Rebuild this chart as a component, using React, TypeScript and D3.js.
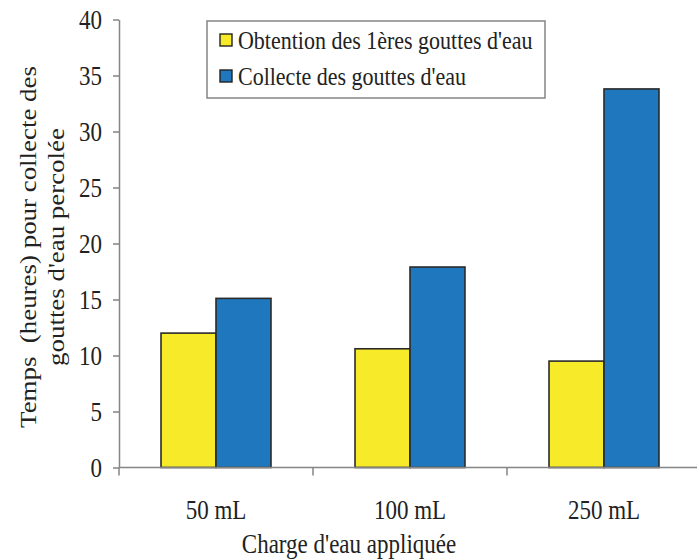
import React, { useEffect, useRef } from "react";
import * as d3 from "d3";

// data
const categories = ["50 mL", "100 mL", "250 mL"];
const seriesNames = ["Obtention des 1ères gouttes d'eau", "Collecte des gouttes d'eau"];
const firstDrops = [12.0, 10.6, 9.5];
const collection = [15.1, 17.9, 33.8];
const yTicks = [0, 5, 10, 15, 20, 25, 30, 35, 40];
const colors = ["#F7EA28", "#1F78BE"];

const FONT = "'Liberation Serif', 'Times New Roman', serif";
// the original figure is stretched vertically, so text is too
const STRETCH = 1.15;

function drawChart(container: SVGSVGElement) {
  const width = 697;
  const height = 559;
  const margin = { top: 19.5, right: -4, bottom: 91.5, left: 119 };

  const svg = d3.select(container);
  svg.selectAll("*").remove();

  const x0 = d3
    .scaleBand()
    .domain(categories)
    .range([margin.left, width - margin.right])
    .paddingInner(0)
    .paddingOuter(0);

  const x1 = d3
    .scaleBand()
    .domain(seriesNames)
    .range([0, x0.bandwidth()])
    .paddingInner(0)
    .paddingOuter(0.764);

  const y = d3
    .scaleLinear()
    .domain([0, 40])
    .range([height - margin.bottom, margin.top]);

  const axisColor = "#858585";

  const label = (x: number, yy: number, txt: string, size = 23) =>
    svg
      .append("g")
      .attr("transform", `translate(${x},${yy}) scale(1,${STRETCH})`)
      .append("text")
      .attr("text-anchor", "middle")
      .attr("fill", "#222")
      .style("font-family", FONT)
      .style("font-size", `${size}px`)
      .text(txt);

  // y axis
  const yAxis = svg
    .append("g")
    .attr("transform", `translate(${margin.left},0)`)
    .call(d3.axisLeft(y).tickValues(yTicks).tickSize(6).tickPadding(11).tickSizeOuter(0));
  yAxis.select(".domain").attr("stroke", axisColor).attr("stroke-width", 1.5);
  yAxis.selectAll(".tick line").attr("stroke", axisColor).attr("stroke-width", 1.5);
  yAxis
    .selectAll(".tick text")
    .attr("fill", "#222")
    .attr("transform", `scale(1,${STRETCH})`)
    .style("font-family", FONT)
    .style("font-size", "23px")
    .attr("dy", "0.34em");

  // bars
  const values = [firstDrops, collection];
  categories.forEach((cat, i) => {
    const g = svg.append("g").attr("transform", `translate(${x0(cat)},0)`);
    seriesNames.forEach((s, j) => {
      const v = values[j][i];
      g.append("rect")
        .attr("x", x1(s)!)
        .attr("y", y(v))
        .attr("width", x1.bandwidth())
        .attr("height", y(0) - y(v))
        .attr("fill", colors[j])
        .attr("stroke", "#2a2a2a")
        .attr("stroke-width", 1.6);
    });
  });

  // x axis (ticks at category boundaries)
  const xAxisG = svg.append("g").attr("transform", `translate(0,${y(0)})`);
  xAxisG
    .append("line")
    .attr("x1", margin.left)
    .attr("x2", width)
    .attr("stroke", axisColor)
    .attr("stroke-width", 1.5);
  categories.forEach((cat) => {
    xAxisG
      .append("line")
      .attr("x1", x0(cat)!)
      .attr("x2", x0(cat)!)
      .attr("y1", 0)
      .attr("y2", 8)
      .attr("stroke", axisColor)
      .attr("stroke-width", 1.5);
    label(x0(cat)! + x0.bandwidth() / 2, y(0) + 51, cat, 23);
  });

  // axis titles
  label(349, 553, "Charge d'eau appliquée");

  const yTitle = svg
    .append("text")
    .attr("transform", `translate(36,247) rotate(-90) scale(1.17,1)`)
    .attr("text-anchor", "middle")
    .attr("fill", "#222")
    .style("font-family", FONT)
    .style("font-size", "23px");
  yTitle.append("tspan").attr("x", 0).attr("y", 0).attr("xml:space", "preserve").text("Temps  (heures) pour collecte des");
  yTitle.append("tspan").attr("x", 0).attr("y", 28).text("gouttes d'eau percolée");

  // legend
  const legend = svg.append("g").attr("transform", "translate(207,21)");
  legend
    .append("rect")
    .attr("width", 338)
    .attr("height", 77)
    .attr("fill", "white")
    .attr("stroke", axisColor)
    .attr("stroke-width", 1.5);
  seriesNames.forEach((s, j) => {
    const row = legend.append("g").attr("transform", `translate(13,${19 + j * 36})`);
    row
      .append("rect")
      .attr("x", 0)
      .attr("y", -6)
      .attr("width", 12)
      .attr("height", 12)
      .attr("fill", colors[j])
      .attr("stroke", "#222")
      .attr("stroke-width", 1.4);
    row
      .append("g")
      .attr("transform", `translate(18,0) scale(1,${STRETCH})`)
      .append("text")
      .attr("dy", "0.35em")
      .attr("fill", "#222")
      .style("font-family", FONT)
      .style("font-size", "22px")
      .text(s);
  });
}

export default function App() {
  const ref = useRef<SVGSVGElement>(null);

  useEffect(() => {
    if (ref.current) drawChart(ref.current);
  }, []);

  return (
    <svg
      ref={ref}
      width={697}
      height={559}
      style={{ position: "absolute", left: 0, top: 0, background: "white" }}
    />
  );
}
